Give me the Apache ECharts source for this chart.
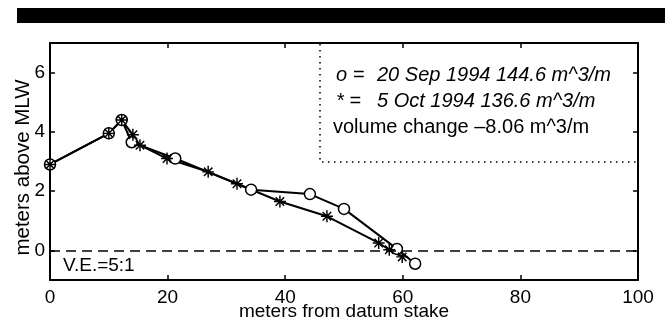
<!DOCTYPE html>
<html>
<head>
<meta charset="utf-8">
<script src="https://cdn.jsdelivr.net/npm/echarts@6/dist/echarts.min.js"></script>
<style>
  html, body { margin: 0; padding: 0; background: #fff; }
  #chart { width: 665px; height: 328px; }
</style>
</head>
<body>
<div id="chart"></div>
<script>
// beach profile: 20 Sep (o) vs 5 Oct (*) 1994
const sepX = [0, 10, 12.2, 13.9, 21.3, 34.2, 44.2, 50.0, 59.0, 62.1];
const sepY = [2.9, 3.95, 4.4, 3.65, 3.1, 2.05, 1.9, 1.4, 0.05, -0.45];
const octX = [0, 10, 12.2, 14.1, 15.3, 19.9, 26.9, 31.8, 39.1, 47.1, 55.9, 57.7, 59.9];
const octY = [2.9, 3.95, 4.4, 3.9, 3.55, 3.1, 2.65, 2.25, 1.65, 1.15, 0.25, 0.02, -0.22];
const yTicks = [0, 2, 4, 6];
const legendLines = [
  ["o =", "20 Sep 1994 144.6 m^3/m"],
  ["* =", "5 Oct 1994 136.6 m^3/m"],
];
const changeLine = "volume change \u20138.06 m^3/m";
const veText = "V.E.=5:1";

const FONT = "Liberation Sans";
const star = "path://M-1.2 -10 L1.2 -10 L1.2 10 L-1.2 10 Z " +
  "M-10 -1.2 L10 -1.2 L10 1.2 L-10 1.2 Z " +
  "M6.22 7.92 L-7.92 -6.22 L-6.22 -7.92 L7.92 6.22 Z " +
  "M7.92 -6.22 L-6.22 7.92 L-7.92 6.22 L6.22 -7.92 Z";

const pairs = (xs, ys) => xs.map((x, i) => [x, ys[i]]);

const chart = echarts.init(document.getElementById("chart"));
const tick = { show: true, inside: true, length: 5, lineStyle: { color: "#000", width: 1.5 } };
const axLine = { show: true, onZero: false, lineStyle: { color: "#000", width: 2 } };
const lab = { color: "#000", fontFamily: FONT, fontSize: 19 };

chart.setOption({
  animation: false,
  grid: { left: 50, right: 27, top: 43, bottom: 48, outerBoundsMode: "none", containLabel: false },
  xAxis: [
    {
      type: "value", min: 0, max: 100, interval: 20,
      axisLine: axLine, axisTick: tick, splitLine: { show: false },
      axisLabel: Object.assign({ margin: 8 }, lab),
      name: "meters from datum stake", nameLocation: "middle", nameGap: 22,
      nameMoveOverlap: false,
      nameTextStyle: lab,
    },
    {
      type: "value", min: 0, max: 100, interval: 20, position: "top",
      axisLine: axLine, axisTick: tick, axisLabel: { show: false }, splitLine: { show: false },
    },
  ],
  yAxis: [
    {
      type: "value", min: -1, max: 7,
      axisLine: axLine, axisTick: Object.assign({ customValues: yTicks }, tick),
      axisLabel: Object.assign({ customValues: yTicks, margin: 5 }, lab),
      splitLine: { show: false },
      name: "meters above MLW", nameLocation: "middle", nameGap: 16,
      nameMoveOverlap: false,
      nameTextStyle: Object.assign({}, lab, { fontSize: 20.5, padding: [0, 12, 0, 0] }),
    },
    {
      type: "value", min: -1, max: 7, position: "right",
      axisLine: axLine, axisTick: Object.assign({ customValues: yTicks }, tick),
      axisLabel: { show: false }, splitLine: { show: false },
    },
  ],
  series: [
    {
      type: "line", data: pairs(sepX, sepY),
      symbol: "circle", symbolSize: 11,
      itemStyle: { color: "#fff", borderColor: "#000", borderWidth: 1.5 },
      lineStyle: { color: "#000", width: 2 },
      markLine: {
        silent: true, symbol: "none", label: { show: false },
        lineStyle: { color: "#000", width: 1.5, type: [10, 6] },
        data: [{ yAxis: 0 }],
      },
    },
    {
      type: "line", data: pairs(octX, octY),
      symbol: star, symbolSize: 12,
      itemStyle: { color: "#000" },
      lineStyle: { color: "#000", width: 2 },
    },
  ],
  graphic: [
    { type: "rect", shape: { x: 17, y: 8, width: 648, height: 15 }, style: { fill: "#000" } },
    {
      type: "polyline", shape: { points: [[320, 44], [320, 162], [637, 162]] },
      style: { stroke: "#000", lineWidth: 1.5, lineDash: [1.5, 4.5], fill: null },
    },
    ...legendLines.flatMap((l, i) => [
      { type: "text", x: 336, y: 75 + i * 26, style: { text: l[0], font: `italic 20px '${FONT}'`, fill: "#000", verticalAlign: "middle" } },
      { type: "text", x: 377, y: 75 + i * 26, style: { text: l[1], font: `italic 20px '${FONT}'`, fill: "#000", verticalAlign: "middle" } },
    ]),
    { type: "text", x: 333, y: 127, style: { text: changeLine, font: `20px '${FONT}'`, fill: "#000", verticalAlign: "middle" } },
    { type: "text", x: 63, y: 266, style: { text: veText, font: `19px '${FONT}'`, fill: "#000", verticalAlign: "middle" } },
  ],
});
</script>
</body>
</html>
